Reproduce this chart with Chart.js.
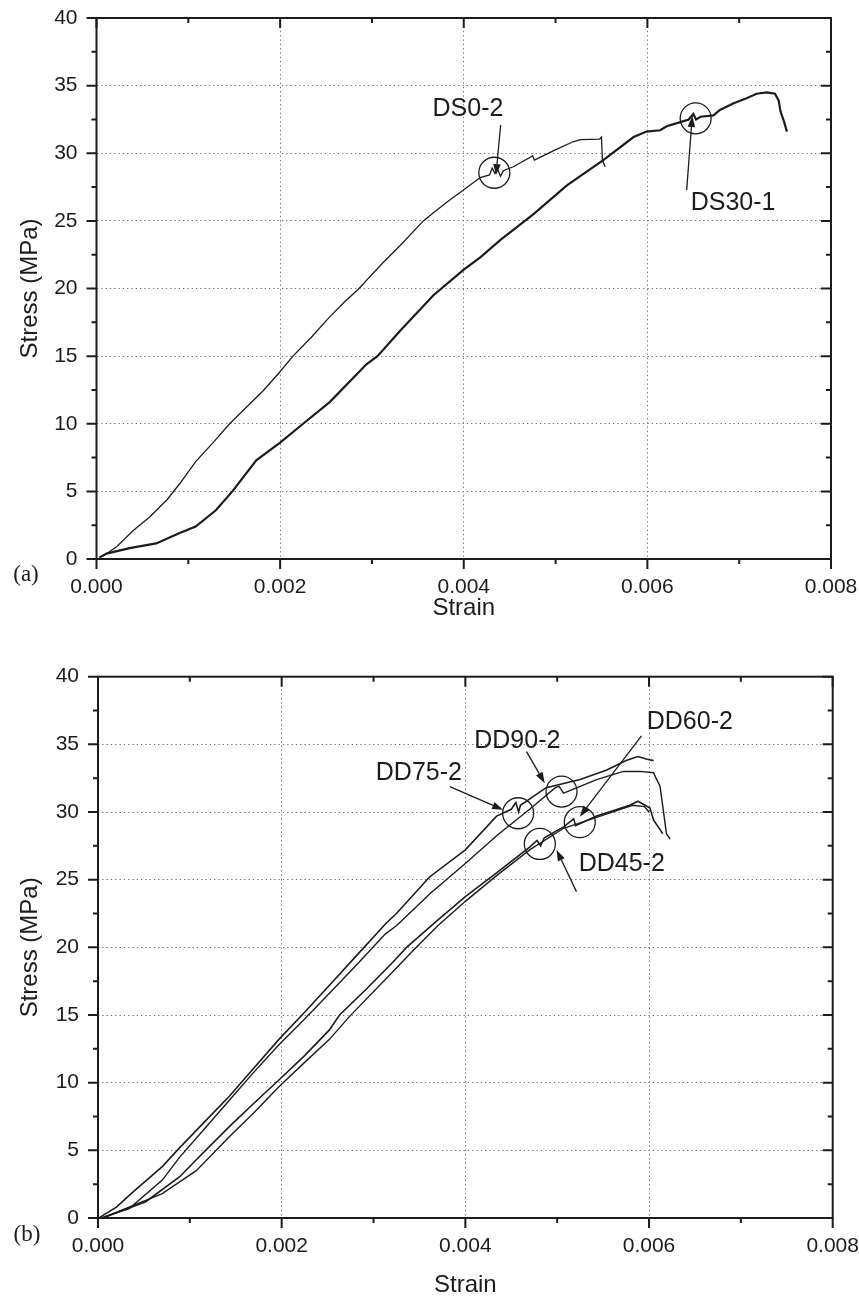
<!DOCTYPE html>
<html>
<head>
<meta charset="utf-8">
<script src="https://cdn.jsdelivr.net/npm/chart.js@4.4.1/dist/chart.umd.min.js"></script>
<style>
  html, body { margin: 0; padding: 0; background: #fff; }
  #wrap { position: relative; width: 859px; height: 1298px; }
  canvas { position: absolute; left: 0; }
  #chartA { top: 0; }
  #chartB { top: 640px; }
</style>
</head>
<body>
<div id="wrap">
  <canvas id="chartA" width="859" height="640"></canvas>
  <canvas id="chartB" width="859" height="658"></canvas>
</div>
<script>
// axis ticks
const strainTicks = [0, 0.002, 0.004, 0.006, 0.008];
const strainMinor = [0.001, 0.003, 0.005, 0.007];
const stressTicks = [0, 5, 10, 15, 20, 25, 30, 35, 40];
const stressMinor = [2.5, 7.5, 12.5, 17.5, 22.5, 27.5, 32.5, 37.5];

// (a) DS0-2
const ds02Strain = [0.00005, 0.0001, 0.00022, 0.0004, 0.00058, 0.00077, 0.00091, 0.00108, 0.00127, 0.00145, 0.00163, 0.00181, 0.00198, 0.00214, 0.00234, 0.00254, 0.00270, 0.00286, 0.00294, 0.00312, 0.00331, 0.00356, 0.00367, 0.00384, 0.0040, 0.00418, 0.00428, 0.00431, 0.00434, 0.00437, 0.0044, 0.00443, 0.00446, 0.00454, 0.00475, 0.00477, 0.00498, 0.00519, 0.00527, 0.00548, 0.0055, 0.00551, 0.00554];
const ds02Stress = [0.2, 0.35, 0.9, 2.1, 3.1, 4.4, 5.6, 7.2, 8.6, 10.0, 11.2, 12.4, 13.7, 15.0, 16.4, 17.9, 19.0, 20.0, 20.6, 21.9, 23.2, 25.0, 25.6, 26.5, 27.3, 28.2, 28.4, 28.9, 28.5, 28.8, 28.3, 28.7, 28.8, 29.0, 29.8, 29.5, 30.2, 30.85, 31.0, 31.05, 31.2, 29.5, 29.0];

// (a) DS30-1
const ds301Strain = [0.00003, 0.00011, 0.00036, 0.00065, 0.0009, 0.00108, 0.0013, 0.00148, 0.00174, 0.002, 0.00225, 0.00254, 0.00294, 0.00306, 0.00331, 0.00367, 0.0040, 0.00418, 0.0044, 0.00476, 0.00512, 0.00548, 0.00552, 0.00585, 0.00599, 0.00614, 0.00621, 0.00636, 0.00645, 0.0065, 0.00653, 0.00658, 0.00672, 0.00679, 0.00694, 0.00708, 0.00719, 0.0073, 0.00739, 0.00743, 0.00745, 0.00749, 0.00752];
const ds301Stress = [0.1, 0.4, 0.8, 1.15, 1.9, 2.4, 3.6, 5.0, 7.3, 8.6, 10.0, 11.6, 14.4, 15.0, 16.9, 19.5, 21.4, 22.3, 23.6, 25.5, 27.6, 29.3, 29.5, 31.2, 31.6, 31.7, 32.0, 32.3, 32.5, 32.9, 32.5, 32.7, 32.8, 33.2, 33.7, 34.06, 34.4, 34.5, 34.4, 33.9, 33.1, 32.3, 31.6];

// (b) DD90-2
const dd90Strain = [0.00002, 0.0002, 0.00041, 0.0007, 0.00089, 0.00116, 0.00143, 0.0017, 0.00197, 0.00225, 0.00252, 0.00283, 0.00314, 0.00325, 0.00361, 0.0040, 0.00434, 0.0045, 0.00455, 0.00458, 0.0046, 0.00488, 0.00525, 0.00554, 0.00575, 0.00588, 0.00598, 0.00605];
const dd90Stress = [0.05, 0.8, 2.1, 3.8, 5.2, 7.1, 9.0, 11.1, 13.2, 15.2, 17.2, 19.5, 21.8, 22.5, 25.2, 27.2, 29.7, 30.2, 30.7, 30.0, 30.5, 31.8, 32.4, 33.1, 33.8, 34.1, 33.9, 33.8];

// (b) DD75-2
const dd75Strain = [0.00005, 0.00034, 0.0007, 0.00089, 0.00116, 0.00143, 0.0017, 0.00197, 0.00225, 0.00252, 0.00283, 0.00313, 0.00325, 0.00362, 0.0040, 0.00435, 0.0047, 0.00498, 0.00502, 0.00507, 0.00543, 0.00572, 0.0059, 0.00605, 0.00607, 0.00612, 0.00619, 0.00623];
const dd75Stress = [0.05, 0.7, 2.8, 4.5, 6.6, 8.7, 10.8, 12.8, 14.7, 16.6, 18.8, 21.0, 21.6, 24.0, 26.2, 28.3, 30.2, 31.8, 31.9, 31.4, 32.4, 33.0, 33.0, 32.9, 32.6, 31.9, 28.4, 28.0];

// (b) DD60-2
const dd60Strain = [0.00005, 0.00052, 0.00089, 0.00107, 0.00143, 0.0017, 0.00197, 0.00225, 0.00252, 0.00263, 0.00292, 0.00321, 0.00336, 0.00368, 0.0040, 0.00434, 0.0047, 0.00478, 0.00482, 0.00486, 0.00507, 0.00518, 0.0052, 0.00543, 0.00579, 0.00588, 0.00601, 0.00605, 0.0061, 0.00615];
const dd60Stress = [0.0, 1.2, 3.05, 4.3, 6.75, 8.5, 10.2, 12.0, 13.9, 15.0, 16.9, 18.9, 20.0, 21.9, 23.75, 25.5, 27.4, 27.9, 27.5, 28.1, 28.9, 29.5, 29.0, 29.7, 30.5, 30.8, 30.3, 29.4, 28.9, 28.4];

// (b) DD45-2
const dd45Strain = [0.00005, 0.0007, 0.00107, 0.00143, 0.0017, 0.00197, 0.00225, 0.00252, 0.00274, 0.00321, 0.00345, 0.0037, 0.0040, 0.00434, 0.0047, 0.00507, 0.00543, 0.00582, 0.00595, 0.006];
const dd45Stress = [0.0, 1.8, 3.5, 6.0, 7.8, 9.7, 11.5, 13.2, 14.9, 18.2, 19.9, 21.6, 23.4, 25.3, 27.2, 28.8, 29.6, 30.5, 30.4, 30.0];

const INK = '#1c1c1c';
const SANS = '"Liberation Sans", Arial, sans-serif';
const SERIF = '"Liberation Serif", "Times New Roman", serif';

function pts(xs, ys) {
    return xs.map((x, i) => ({ x: x, y: ys[i] }));
}

function curve(label, xs, ys, width) {
    return {
        label: label,
        data: pts(xs, ys),
        borderColor: INK,
        borderWidth: width,
        pointRadius: 0,
        showLine: true,
        fill: false,
        tension: 0
    };
}

// labels, circles and arrows in data units
const notesA = [
    { text: 'DS0-2', tx: 0.004046, ty: 33.27, cx: 0.004333, cy: 28.56, ax: 0.004402, ay: 32.09, bx: 0.004351, by: 28.39 },
    { text: 'DS30-1', tx: 0.006933, ty: 26.32, cx: 0.006526, cy: 32.58, ax: 0.006428, ay: 27.28, bx: 0.006489, by: 32.75 }
];
const notesB = [
    { text: 'DD75-2', tx: 0.003494, ty: 32.89, cx: 0.004575, cy: 29.91, ax: 0.003831, ay: 31.88, bx: 0.004411, by: 30.16 },
    { text: 'DD90-2', tx: 0.004566, ty: 35.25, cx: 0.005047, cy: 31.51, ax: 0.004666, ay: 34.46, bx: 0.004865, by: 32.13 },
    { text: 'DD60-2', tx: 0.006444, ty: 36.66, cx: 0.005246, cy: 29.25, ax: 0.005918, ay: 35.62, bx: 0.005246, by: 29.66 },
    { text: 'DD45-2', tx: 0.005703, ty: 26.16, cx: 0.004811, cy: 27.64, ax: 0.00521, ay: 24.12, bx: 0.004993, by: 27.2 }
];

const framePlugin = {
    id: 'frame',
    afterDraw(chart, args, opts) {
        const { ctx, chartArea: { left, right, top, bottom }, scales: { x, y } } = chart;
        ctx.save();
        ctx.strokeStyle = INK;
        ctx.lineWidth = 2;
        ctx.strokeRect(left, top, right - left, bottom - top);

        const tickX = (v, len) => {
            const px = x.getPixelForValue(v);
            ctx.beginPath();
            ctx.moveTo(px, bottom); ctx.lineTo(px, bottom + len);
            ctx.moveTo(px, top); ctx.lineTo(px, top + len);
            ctx.stroke();
        };
        const tickY = (v, len) => {
            const py = y.getPixelForValue(v);
            ctx.beginPath();
            ctx.moveTo(left - len, py); ctx.lineTo(left, py);
            ctx.moveTo(right - len, py); ctx.lineTo(right, py);
            ctx.stroke();
        };
        strainTicks.forEach(v => tickX(v, 10));
        strainMinor.forEach(v => tickX(v, 5));
        stressTicks.forEach(v => tickY(v, 10));
        stressMinor.forEach(v => tickY(v, 5));

        // annotations
        ctx.lineWidth = 1.3;
        ctx.fillStyle = INK;
        opts.notes.forEach(n => {
            const cx = x.getPixelForValue(n.cx), cy = y.getPixelForValue(n.cy);
            ctx.beginPath();
            ctx.arc(cx, cy, 15.5, 0, Math.PI * 2);
            ctx.stroke();

            const ax = x.getPixelForValue(n.ax), ay = y.getPixelForValue(n.ay);
            const bx = x.getPixelForValue(n.bx), by = y.getPixelForValue(n.by);
            const ang = Math.atan2(by - ay, bx - ax);
            const hl = 11, hw = 3.8;
            const ex = bx - hl * Math.cos(ang), ey = by - hl * Math.sin(ang);
            ctx.beginPath();
            ctx.moveTo(ax, ay); ctx.lineTo(ex, ey);
            ctx.stroke();
            ctx.beginPath();
            ctx.moveTo(bx, by);
            ctx.lineTo(ex + hw * Math.sin(ang), ey - hw * Math.cos(ang));
            ctx.lineTo(ex - hw * Math.sin(ang), ey + hw * Math.cos(ang));
            ctx.closePath();
            ctx.fill();

            ctx.font = '25px ' + SANS;
            ctx.textAlign = 'center';
            ctx.textBaseline = 'middle';
            ctx.fillText(n.text, x.getPixelForValue(n.tx), y.getPixelForValue(n.ty));
        });

        // panel letter
        ctx.font = '23px ' + SERIF;
        ctx.textAlign = 'center';
        ctx.textBaseline = 'middle';
        ctx.fillText(opts.panel, opts.px, opts.py);
        ctx.restore();
    }
};

function makeChart(id, datasets, g) {
    const edgeX = c => (c.tick && (Math.abs(c.tick.value) < 1e-9 || Math.abs(c.tick.value - 0.008) < 1e-9)) ? 'rgba(0,0,0,0)' : '#707070';
    const edgeY = c => (c.tick && (c.tick.value === 0 || c.tick.value === 40)) ? 'rgba(0,0,0,0)' : '#707070';
    return new Chart(document.getElementById(id).getContext('2d'), {
        type: 'scatter',
        data: { datasets: datasets },
        plugins: [framePlugin],
        options: {
            responsive: false,
            maintainAspectRatio: false,
            animation: false,
            events: [],
            layout: { padding: { left: 0, top: g.top, right: g.right, bottom: g.bottom } },
            plugins: {
                legend: { display: false },
                tooltip: { enabled: false },
                frame: { notes: g.notes, panel: g.panel, px: g.px, py: g.py }
            },
            scales: {
                x: {
                    type: 'linear',
                    min: 0, max: 0.008,
                    afterFit: s => { s.height = g.xh; s.paddingLeft = 0; s.paddingRight = 0; },
                    ticks: {
                        stepSize: 0.002,
                        padding: 16,
                        color: INK,
                        font: { family: SANS, size: 21 },
                        maxRotation: 0,
                        callback: v => v.toFixed(3)
                    },
                    grid: { drawTicks: false, color: edgeX, lineWidth: 1 },
                    border: { display: false, dash: [1.3, 3] },
                    title: { display: true, text: 'Strain', color: INK, font: { family: SANS, size: 24, lineHeight: 1 }, padding: { top: 0, bottom: 1 } }
                },
                y: {
                    type: 'linear',
                    min: 0, max: 40,
                    afterFit: s => { s.width = g.yw; s.paddingTop = 0; s.paddingBottom = 0; },
                    ticks: {
                        stepSize: 5,
                        padding: 19,
                        color: INK,
                        font: { family: SANS, size: 21 }
                    },
                    grid: { drawTicks: false, color: edgeY, lineWidth: 1 },
                    border: { display: false, dash: [1.3, 3] },
                    title: { display: true, text: 'Stress (MPa)', color: INK, font: { family: SANS, size: 24, lineHeight: 1 }, padding: { top: 18, bottom: 0 } }
                }
            }
        }
    });
}

makeChart('chartA', [
    curve('DS0-2', ds02Strain, ds02Stress, 1.3),
    curve('DS30-1', ds301Strain, ds301Stress, 2.2)
], { top: 18, right: 28, bottom: 19, xh: 62, yw: 96.5, notes: notesA, panel: '(a)', px: 26, py: 575 });

makeChart('chartB', [
    curve('DD90-2', dd90Strain, dd90Stress, 1.6),
    curve('DD75-2', dd75Strain, dd75Stress, 1.4),
    curve('DD60-2', dd60Strain, dd60Stress, 1.6),
    curve('DD45-2', dd45Strain, dd45Stress, 1.4)
], { top: 36.7, right: 26.3, bottom: 0, xh: 80, yw: 98, notes: notesB, panel: '(b)', px: 27, py: 595 });
</script>
</body>
</html>
